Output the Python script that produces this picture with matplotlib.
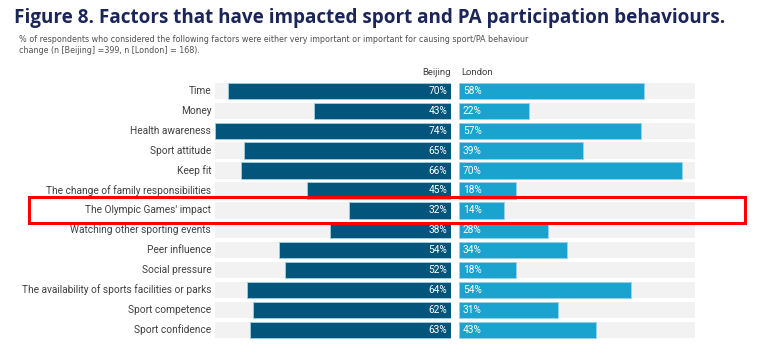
import matplotlib.pyplot as plt
from matplotlib.patches import Rectangle

factors = [
    'Time', 'Money', 'Health awareness', 'Sport attitude', 'Keep fit',
    'The change of family responsibilities', "The Olympic Games' impact",
    'Watching other sporting events', 'Peer influence', 'Social pressure',
    'The availability of sports facilities or parks', 'Sport competence',
    'Sport confidence',
]
beijing = [70, 43, 74, 65, 66, 45, 32, 38, 54, 52, 64, 62, 63]
london = [58, 22, 57, 39, 70, 18, 14, 28, 34, 18, 54, 31, 43]
highlight = "The Olympic Games' impact"

W, H = 762, 347
fig = plt.figure(figsize=(W / 100, H / 100), dpi=100)

dark = '#03557c'
light = '#1ba3cf'
bg = '#f2f2f2'
label_col = '#404040'
vmax = max(max(beijing), max(london))

top_px, pitch = 81, 19.9
bottom_px = top_px + pitch * len(factors)
ax_b = fig.add_axes([215 / W, 1 - bottom_px / H, 236 / W, (bottom_px - top_px) / H])
ax_l = fig.add_axes([459 / W, 1 - bottom_px / H, 236 / W, (bottom_px - top_px) / H])

ys = list(range(len(factors)))
for ax, vals, col in [(ax_b, beijing, dark), (ax_l, london, light)]:
    ax.barh(ys, [vmax] * len(ys), height=0.82, color=bg)
    ax.barh(ys, vals, height=0.82, color=col, edgecolor='#9fd0e6', linewidth=0.6)
    ax.set_xlim(0, vmax)
    ax.set_ylim(len(factors) - 0.5, -0.5)
    ax.axis('off')
ax_b.invert_xaxis()

for y, name, b, l in zip(ys, factors, beijing, london):
    ax_b.text(vmax + 1.2, y, name, ha='right', va='center', fontsize=7.3,
              color=label_col, family='Roboto')
    ax_b.text(1.2, y, f'{b}%', ha='right', va='center', fontsize=7.3,
              color='white', family='Roboto')
    ax_l.text(1.2, y, f'{l}%', ha='left', va='center', fontsize=7.3,
              color='white', family='Roboto')

ax_b.text(0, -0.95, 'Beijing', ha='right', va='center', fontsize=6.8,
          color=label_col, family='Roboto')
ax_l.text(0.6, -0.95, 'London', ha='left', va='center', fontsize=6.8,
          color=label_col, family='Roboto')

fig.text(14 / W, 1 - 18 / H,
         'Figure 8. Factors that have impacted sport and PA participation behaviours.',
         ha='left', va='center', fontsize=13.6, fontweight='bold',
         color='#1b2558', family='Open Sans')
fig.text(19 / W, 1 - 45 / H,
         '% of respondents who considered the following factors were either very '
         'important or important for causing sport/PA behaviour\n'
         'change (n [Beijing] =399, n [London] = 168).',
         ha='left', va='center', fontsize=6.4, color='#505050',
         family='DejaVu Sans', fontstretch='condensed', linespacing=1.3)

# red box around the highlighted row
hy = top_px + pitch * (factors.index(highlight) + 0.5)
fig.patches.append(Rectangle((29 / W, 1 - (hy + 13) / H), 716 / W, 26 / H,
                             transform=fig.transFigure, fill=False,
                             edgecolor='#ff0000', linewidth=2.2))

fig.savefig('out.png', dpi=100)
